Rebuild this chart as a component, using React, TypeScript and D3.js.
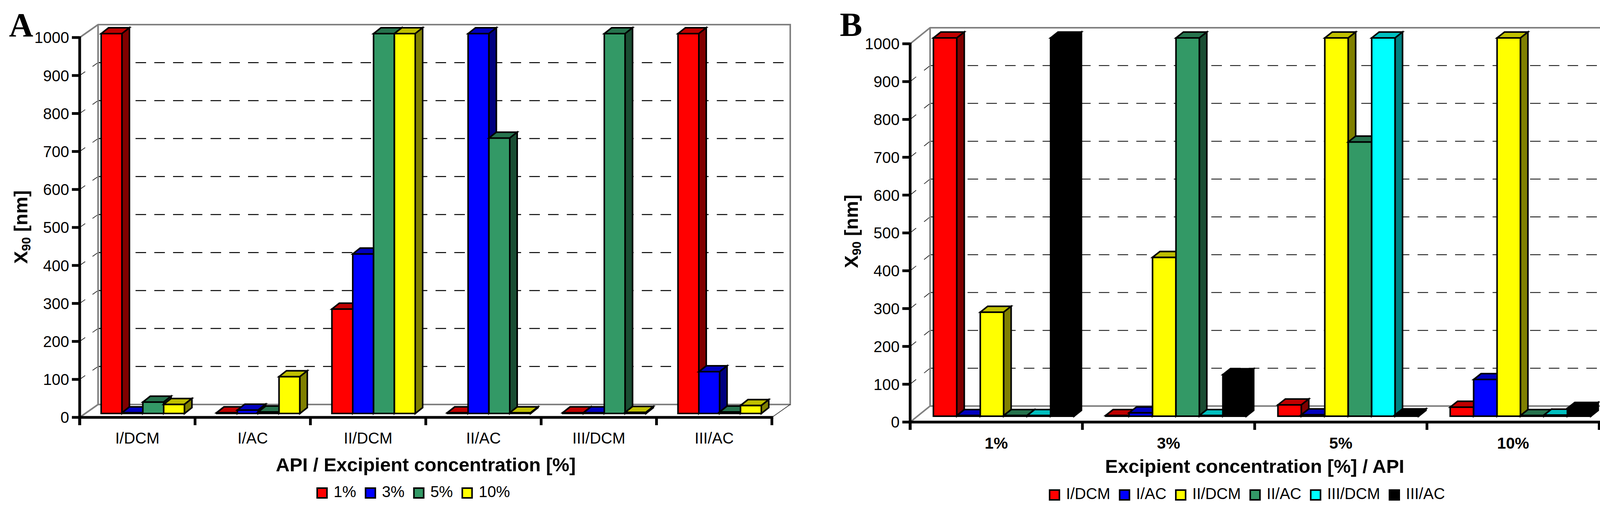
import { useEffect, useRef } from 'react';
import * as d3 from 'd3';

// x90 [nm] per sample, one array per excipient concentration
const CONCS = ['1%', '3%', '5%', '10%'];
const SAMPLES = ['I/DCM', 'I/AC', 'II/DCM', 'II/AC', 'III/DCM', 'III/AC'];
const x90At1 = [1000, 2, 275, 2, 2, 1000];
const x90At3 = [2, 9, 420, 1000, 2, 110];
const x90At5 = [30, 4, 1000, 725, 1000, 4];
const x90At10 = [24, 97, 1000, 2, 3, 21];
const Y_MAX = 1000;

const CONC_COLORS = ['#ff0000', '#0000ff', '#339966', '#ffff00'];
const SAMPLE_COLORS = ['#ff0000', '#0000ff', '#ffff00', '#339966', '#00ffff', '#000000'];

const SANS = '"Liberation Sans", Arial, sans-serif';
const SERIF = '"Liberation Serif", "Times New Roman", serif';

interface Panel {
  letter: string;
  letterX: number;
  letterY: number;
  x0: number;
  x1: number;
  yTop: number;
  yBase: number;
  box: [number, number];
  barOff: [number, number];
  depth: [number, number];
  pad: number;
  gridW: number;
  catY: number;
  catSize: number;
  catWeight: string;
  title: string;
  titleY: number;
  ytX: number;
  ytY: number;
  legendX: number;
  legendY: number;
}

function shade(c: string, k: number) {
  const r = d3.rgb(c);
  return d3.rgb(r.r * k, r.g * k, r.b * k).formatHex();
}

function drawPanel(
  svg: d3.Selection<SVGSVGElement, unknown, null, undefined>,
  p: Panel,
  cats: string[],
  keys: string[],
  colors: string[],
  valueOf: (ci: number, ki: number) => number
) {
  const g = svg.append('g');
  const x = d3.scaleBand<string>().domain(cats).range([p.x0, p.x1]);
  const xi = d3.scaleBand<string>().domain(keys).range([p.pad, x.bandwidth() - p.pad]);
  const y = d3.scaleLinear().domain([0, Y_MAX]).range([p.yBase, p.yTop]);
  const [bx, by] = p.box;
  const L = Math.hypot(bx, by);

  // grid on the back wall + dashed connectors to the axis
  y.ticks(10).filter(v => v > 0 && v < Y_MAX).forEach(v => {
    g.append('line')
      .attr('x1', p.x0 + bx).attr('x2', p.x1 + bx)
      .attr('y1', y(v) - by).attr('y2', y(v) - by)
      .attr('stroke', '#000').attr('stroke-width', p.gridW)
      .attr('stroke-dasharray', '27 21');
    g.append('line')
      .attr('x1', p.x0).attr('y1', y(v))
      .attr('x2', p.x0 + bx).attr('y2', y(v) - by)
      .attr('stroke', '#000').attr('stroke-width', 1.5)
      .attr('stroke-dasharray', `${L * 0.3} ${L * 0.4}`);
  });

  // gray frame of the 3D box
  const gray = '#808080';
  const frame = d3.path();
  frame.moveTo(p.x0, y(Y_MAX));
  frame.lineTo(p.x0 + bx, y(Y_MAX) - by);
  frame.lineTo(p.x1 + bx, y(Y_MAX) - by);
  frame.lineTo(p.x1 + bx, y(0) - by);
  frame.lineTo(p.x0 + bx, y(0) - by);
  frame.lineTo(p.x0, y(0));
  frame.moveTo(p.x0 + bx, y(Y_MAX) - by);
  frame.lineTo(p.x0 + bx, y(0) - by);
  g.append('path').attr('d', frame.toString()).attr('fill', 'none')
    .attr('stroke', gray).attr('stroke-width', 4);
  g.append('line')
    .attr('x1', p.x1).attr('y1', y(0))
    .attr('x2', p.x1 + bx).attr('y2', y(0) - by)
    .attr('stroke', '#000').attr('stroke-width', 1.5);

  // bars
  const [dx, dy] = p.depth;
  const w = xi.bandwidth();
  cats.forEach((c, ci) => {
    keys.forEach((k, ki) => {
      const v = valueOf(ci, ki);
      const col = colors[ki];
      const fx = (x(c) as number) + (xi(k) as number) + p.barOff[0];
      const fy = y(v) - p.barOff[1];
      const fb = y(0) - p.barOff[1];
      const faces: [string, [number, number][]][] = [
        [col, [[fx, fy], [fx + w, fy], [fx + w, fb], [fx, fb]]],
        [shade(col, 0.75), [[fx, fy], [fx + dx, fy - dy], [fx + w + dx, fy - dy], [fx + w, fy]]],
        [shade(col, 0.5), [[fx + w, fy], [fx + w + dx, fy - dy], [fx + w + dx, fb - dy], [fx + w, fb]]],
      ];
      faces.forEach(([fill, pts]) => {
        g.append('polygon')
          .attr('points', pts.map(q => q.join(',')).join(' '))
          .attr('fill', fill)
          .attr('stroke', '#000').attr('stroke-width', 4)
          .attr('stroke-linejoin', 'miter');
      });
    });
  });

  // axes
  const axis = g.append('g').attr('stroke', '#000').attr('stroke-width', 7);
  axis.append('line').attr('x1', p.x0).attr('x2', p.x0)
    .attr('y1', y(Y_MAX) - 3).attr('y2', y(0) + 20);
  axis.append('line').attr('x1', p.x0 - 3.5).attr('x2', p.x1 + 3.5)
    .attr('y1', y(0)).attr('y2', y(0));
  y.ticks(10).forEach(v => {
    axis.append('line').attr('x1', p.x0 - 20).attr('x2', p.x0)
      .attr('y1', y(v)).attr('y2', y(v));
  });
  cats.concat(['end']).forEach((c, i) => {
    const xx = i < cats.length ? (x(c) as number) : p.x1;
    axis.append('line').attr('x1', xx).attr('x2', xx)
      .attr('y1', y(0)).attr('y2', y(0) + 20);
  });

  // tick labels
  y.ticks(10).forEach(v => {
    g.append('text')
      .attr('x', p.x0 - 27).attr('y', y(v)).attr('dy', '0.36em')
      .attr('text-anchor', 'end')
      .attr('font-family', SANS).attr('font-size', 40)
      .text(v);
  });
  cats.forEach(c => {
    g.append('text')
      .attr('x', (x(c) as number) + x.bandwidth() / 2).attr('y', p.catY)
      .attr('text-anchor', 'middle')
      .attr('font-family', SANS).attr('font-size', p.catSize)
      .attr('font-weight', p.catWeight)
      .text(c);
  });

  // axis titles
  g.append('text')
    .attr('x', (p.x0 + p.x1) / 2).attr('y', p.titleY)
    .attr('text-anchor', 'middle')
    .attr('font-family', SANS).attr('font-size', 49).attr('font-weight', 'bold')
    .text(p.title);

  const yt = g.append('text')
    .attr('transform', `translate(${p.ytX},${p.ytY}) rotate(-90)`)
    .attr('text-anchor', 'middle')
    .attr('font-family', SANS).attr('font-size', 49).attr('font-weight', 'bold');
  yt.append('tspan').text('X');
  yt.append('tspan').attr('font-size', 32).attr('dy', 8).text('90');
  yt.append('tspan').attr('dy', -8).text('\u00a0[nm]');

  // legend
  let lx = p.legendX;
  keys.forEach((k, ki) => {
    g.append('rect')
      .attr('x', lx).attr('y', p.legendY - 23)
      .attr('width', 25).attr('height', 25)
      .attr('fill', colors[ki]).attr('stroke', '#000').attr('stroke-width', 4);
    const t = g.append('text')
      .attr('x', lx + 42).attr('y', p.legendY)
      .attr('font-family', SANS).attr('font-size', 40)
      .text(k);
    const tw = (t.node() as SVGTextElement).getComputedTextLength();
    lx += 42 + tw + 24;
  });

  // panel letter
  g.append('text')
    .attr('x', p.letterX).attr('y', p.letterY)
    .attr('font-family', SERIF).attr('font-size', 86).attr('font-weight', 'bold')
    .text(p.letter);
}

const PANEL_A: Panel = {
  letter: 'A', letterX: 23, letterY: 93,
  x0: 204, x1: 1976, yTop: 96, yBase: 1068,
  box: [47, 33], barOff: [14, 10], depth: [19, 15], pad: 41, gridW: 2.5,
  catY: 1135, catSize: 40, catWeight: 'normal',
  title: 'API / Excipient concentration [%]', titleY: 1206,
  ytX: 70, ytY: 581,
  legendX: 812, legendY: 1272,
};

const PANEL_B: Panel = {
  letter: 'B', letterX: 2150, letterY: 92,
  x0: 2330, x1: 4094, yTop: 112, yBase: 1080,
  box: [51, 41], barOff: [19, 15], depth: [19, 15], pad: 40.5, gridW: 2,
  catY: 1148, catSize: 41, catWeight: 'bold',
  title: 'Excipient concentration [%] / API', titleY: 1210,
  ytX: 2196, ytY: 592,
  legendX: 2687, legendY: 1277,
};

export default function App() {
  const svgRef = useRef<SVGSVGElement>(null);

  useEffect(() => {
    if (!svgRef.current) return;
    document.body.style.margin = '0';
    const svg = d3.select(svgRef.current);
    svg.selectAll('*').remove();

    const byConc = [x90At1, x90At3, x90At5, x90At10];

    // A: samples on the axis, concentrations as series
    drawPanel(svg, PANEL_A, SAMPLES, CONCS, CONC_COLORS, (ci, ki) => byConc[ki][ci]);
    // B: concentrations on the axis, samples as series
    drawPanel(svg, PANEL_B, CONCS, SAMPLES, SAMPLE_COLORS, (ci, ki) => byConc[ci][ki]);
  }, []);

  return (
    <svg ref={svgRef} width={4188} height={1305} style={{ display: 'block', background: '#fff' }} />
  );
}
